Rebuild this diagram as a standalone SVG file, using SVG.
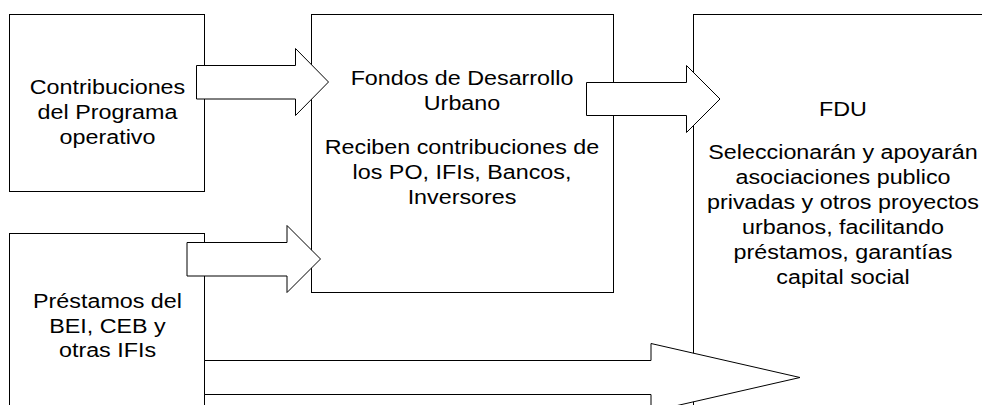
<svg xmlns="http://www.w3.org/2000/svg" width="982" height="405" viewBox="0 0 982 405">
<style>
.box{fill:#fff;stroke:#000;stroke-width:1}
.arr{fill:#fff;stroke:#000;stroke-width:1;stroke-linejoin:miter}
text{font-family:"Liberation Sans",Arial,sans-serif;font-size:21px;fill:#000;text-anchor:middle}
</style>
<rect width="982" height="405" fill="#fff"/>
<g id="contribuciones">
<rect class="box" x="9.5" y="14.5" width="195" height="177"/>
<g transform="translate(107.5 0) scale(1.11 1)">
<text x="0" y="94.5">Contribuciones</text>
<text x="0" y="119.5">del Programa</text>
<text x="0" y="144.5">operativo</text>
</g>
</g>
<g id="prestamos">
<rect class="box" x="9.5" y="233.5" width="195" height="200"/>
<g transform="translate(107.5 0) scale(1.11 1)">
<text x="0" y="308.5">Préstamos del</text>
<text x="0" y="333">BEI, CEB y</text>
<text x="0" y="357.5">otras IFIs</text>
</g>
</g>
<g id="fondos">
<rect class="box" x="311.5" y="14.5" width="302" height="278"/>
<g transform="translate(462 0) scale(1.11 1)">
<text x="0" y="85">Fondos de Desarrollo</text>
<text x="0" y="110">Urbano</text>
<text x="0" y="154.5">Reciben contribuciones de</text>
<text x="0" y="179.5">los PO, IFIs, Bancos,</text>
<text x="0" y="204.5">Inversores</text>
</g>
</g>
<g id="fdu">
<rect class="box" x="693.5" y="14.5" width="400" height="500"/>
<g transform="translate(843 0) scale(1.11 1)">
<text x="0" y="116.5">FDU</text>
<text x="0" y="159.5">Seleccionarán y apoyarán</text>
<text x="0" y="184.5">asociaciones publico</text>
<text x="0" y="209.5">privadas y otros proyectos</text>
<text x="0" y="234.5">urbanos, facilitando</text>
<text x="0" y="259.5">préstamos, garantías</text>
<text x="0" y="284">capital social</text>
</g>
</g>
<g id="connectors">
<polygon class="arr" points="196.5,65.5 295.5,65.5 295.5,48.5 328.5,82 295.5,115.5 295.5,99 196.5,99"/>
<polygon class="arr" points="187,242.5 287,242.5 287,225.5 320.5,259 287,292.5 287,276 187,276"/>
<polygon class="arr" points="586.5,82.5 686.5,82.5 686.5,65.5 720,99 686.5,132.5 686.5,115.5 586.5,115.5"/>
<polygon class="arr" points="204.5,360.5 651,360.5 651,343.5 800,377.5 651,411.5 651,394.5 204.5,394.5"/>
</g>
</svg>
